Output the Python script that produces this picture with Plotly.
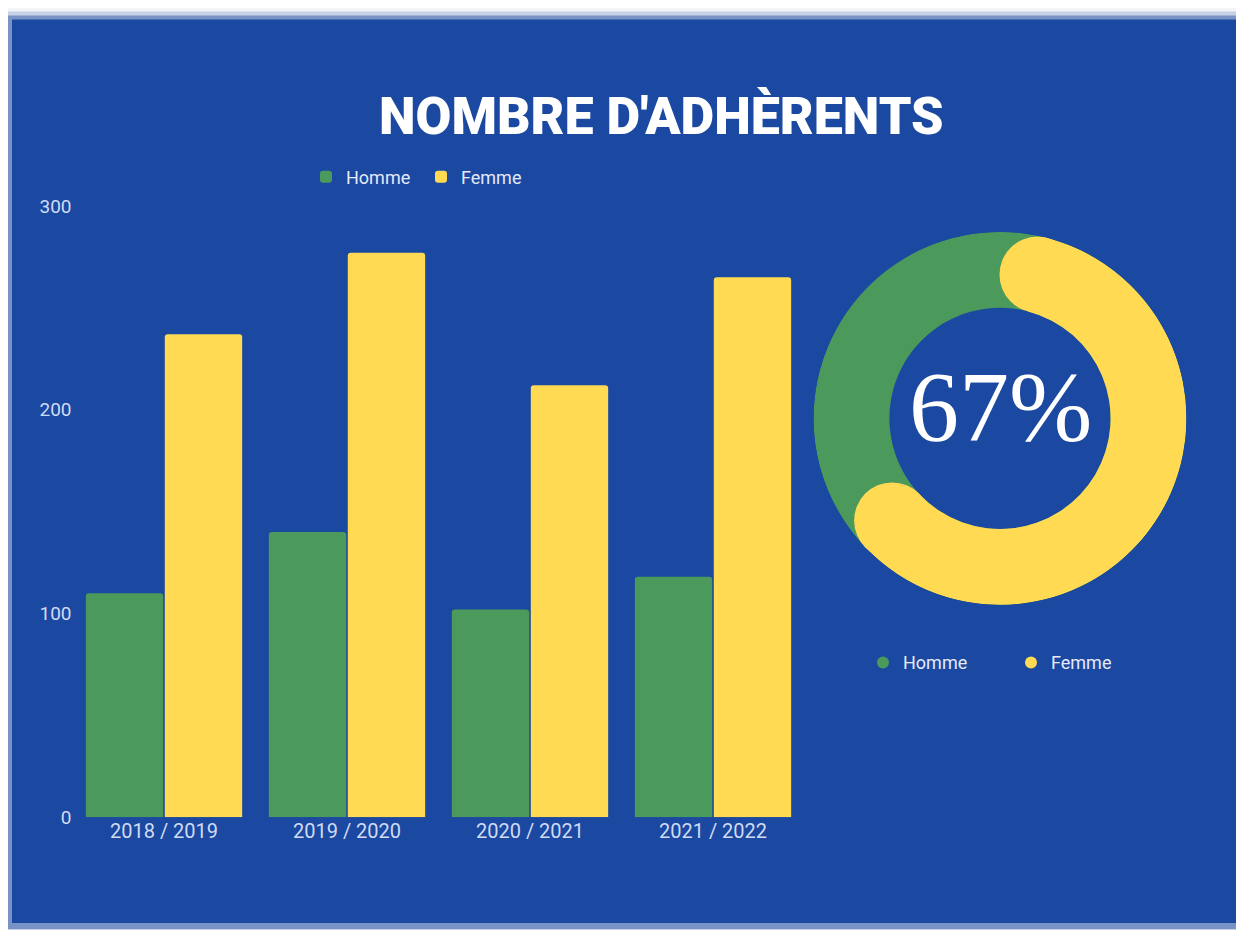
import plotly.graph_objects as go

W, H = 1228, 930
# empirical mapping from reference pixels to paper coordinates in the viewer
X_OFF = 8
Y_OFF, Y_SCALE = 17.5, 0.978

# ---- data ----
seasons = ["2018 / 2019", "2019 / 2020", "2020 / 2021", "2021 / 2022"]
homme = [110, 140, 102, 118]
femme = [237, 277, 212, 265]
donut_labels = ["Homme", "Femme"]
donut_share = [33, 67]          # percent
y_ticks = [0, 100, 200, 300]

# ---- style ----
BLUE = "#1b48a0"
GREEN = "#4c995c"
YELLOW = "#ffda52"
TXT = "#d0dbf4"

def px(x):
    return (x - X_OFF) / W

def py(y):
    return 1 - ((y - Y_OFF) / Y_SCALE) / H

fig = go.Figure()

fig.add_trace(go.Bar(x=seasons, y=homme, name="Homme", marker=dict(color=GREEN, line=dict(width=0)),
                     legend="legend"))
fig.add_trace(go.Bar(x=seasons, y=femme, name="Femme", marker=dict(color=YELLOW, line=dict(width=0)),
                     legend="legend"))

# ---- donut in polar subplot ----
r_in, r_out = 0.593, 1.0
r_mid = (r_in + r_out) / 2
ring_px = 187  # outer radius in px
cap_deg = ((r_out - r_in) / 2 / r_mid) * 180 / 3.141592653589793
span = donut_share[1] / 100 * 360

fig.add_trace(go.Barpolar(r=[r_out - r_in], base=[r_in], theta=[180], width=[359.999],
                          marker=dict(color=GREEN, line=dict(width=0)), showlegend=False,
                          subplot="polar", hoverinfo="skip"))
fig.add_trace(go.Barpolar(r=[r_out - r_in], base=[r_in], theta=[span / 2], width=[span - 2 * cap_deg],
                          marker=dict(color=YELLOW, line=dict(width=0)), showlegend=False,
                          subplot="polar", hoverinfo="skip"))
cap_size = (r_out - r_in) * ring_px
fig.add_trace(go.Scatterpolar(r=[r_mid, r_mid], theta=[cap_deg, span - cap_deg], mode="markers",
                              marker=dict(color=YELLOW, size=cap_size, line=dict(width=0)),
                              showlegend=False, subplot="polar", hoverinfo="skip"))
# legend entries for donut
fig.add_trace(go.Scatterpolar(r=[None], theta=[None], mode="markers", name=donut_labels[0],
                              marker=dict(color=GREEN, size=18), legend="legend2", subplot="polar"))
fig.add_trace(go.Scatterpolar(r=[None], theta=[None], mode="markers", name=donut_labels[1],
                              marker=dict(color=YELLOW, size=18), legend="legend2", subplot="polar"))

shapes = [
    dict(type="rect", xref="paper", yref="paper", x0=px(5), x1=px(1250), y0=py(934), y1=py(10),
         fillcolor="rgba(27,72,160,0.2)", line=dict(width=0), layer="below"),
    dict(type="rect", xref="paper", yref="paper", x0=px(8), x1=px(1246), y0=py(930), y1=py(14),
         fillcolor="rgba(27,72,160,0.45)", line=dict(width=0), layer="below"),
    dict(type="rect", xref="paper", yref="paper", x0=px(12), x1=px(1241), y0=py(924), y1=py(18),
         fillcolor=BLUE, line=dict(width=0), layer="below"),
]

fig.update_layout(
    width=W, height=H,
    margin=dict(l=0, r=0, t=0, b=0),
    paper_bgcolor="#f2f4f8",
    plot_bgcolor="rgba(0,0,0,0)",
    shapes=shapes,
    barmode="group",
    bargap=0.137,
    bargroupgap=0.02,
    barcornerradius=3,
    font=dict(family="Roboto, sans-serif", color=TXT, size=18),
    xaxis=dict(domain=[px(72.5), px(804.5)], showgrid=False, zeroline=False, showline=False,
               tickfont=dict(size=20, color=TXT), ticks="", fixedrange=True),
    yaxis=dict(domain=[py(818), py(205)], range=[0, 300], tickvals=y_ticks, showgrid=False,
               zeroline=False, showline=False, tickfont=dict(size=19, color=TXT), ticks=""),
    polar=dict(domain=dict(x=[px(813), px(1187)], y=[py(605), py(231)]),
               bgcolor="rgba(0,0,0,0)", hole=0,
               radialaxis=dict(range=[0, 1], visible=False),
               angularaxis=dict(visible=False, rotation=90, direction="clockwise")),
    legend=dict(orientation="h", x=px(306), y=py(176), xanchor="left", yanchor="middle",
                font=dict(size=18, color="#e4eaf8"), bgcolor="rgba(0,0,0,0)", itemclick=False,
                entrywidth=70),
    legend2=dict(orientation="h", x=px(863), y=py(663), xanchor="left", yanchor="middle",
                 font=dict(size=18, color="#e4eaf8"), bgcolor="rgba(0,0,0,0)", itemsizing="constant",
                 entrywidth=103, itemclick=False),
    annotations=[
        dict(text="NOMBRE D'ADHÈRENTS", x=px(661), y=py(115), xref="paper", yref="paper",
             showarrow=False, xanchor="center", yanchor="middle",
             font=dict(family="Roboto", size=52, color="white", weight=900)),
        dict(text=f"{donut_share[1]}%", x=px(1000), y=py(406), xref="paper", yref="paper",
             showarrow=False, xanchor="center", yanchor="middle",
             font=dict(family="Liberation Serif", size=100, color="white")),
    ],
    hovermode=False,
)

fig.write_html("out.html")
